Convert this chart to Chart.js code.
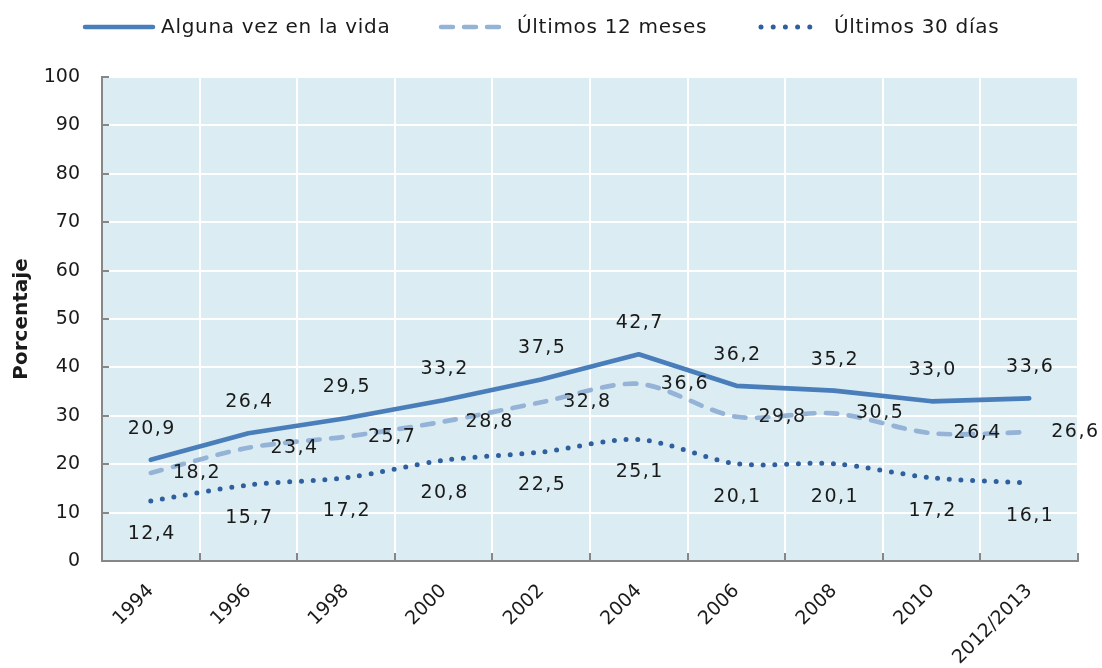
<!DOCTYPE html>
<html><head><meta charset="utf-8">
<script src="https://cdn.jsdelivr.net/npm/chart.js@4.4.0/dist/chart.umd.min.js"></script>
<style>html,body{margin:0;padding:0;background:#fff}#wrap{width:1102px;height:668px;position:relative}canvas{display:block}</style>
</head><body><div id="wrap"><canvas id="c" width="1102" height="668" style="width:1102px;height:668px"></canvas></div>
<script>
const categories = ['1994','1996','1998','2000','2002','2004','2006','2008','2010','2012/2013'];
const algunaVez = [20.9,26.4,29.5,33.2,37.5,42.7,36.2,35.2,33.0,33.6];
const ultimos12 = [18.2,23.4,25.7,28.8,32.8,36.6,29.8,30.5,26.4,26.6];
const ultimos30 = [12.4,15.7,17.2,20.8,22.5,25.1,20.1,20.1,17.2,16.1];
const seriesNames = ['Alguna vez en la vida','Últimos 12 meses','Últimos 30 días'];
const yMin = 0, yMax = 100, yStep = 10;
const yTitle = 'Porcentaje';

const FONT = '"DejaVu Sans", Verdana, sans-serif';
const TXT = '#1a1a1a';
const COLORS = ['#4a7ebb', '#95b3d7', '#2f5f9e'];

const fmt = v => v.toFixed(1).replace('.', ',');

const bgPlugin = {
  id: 'plotBg',
  beforeDraw(chart) {
    const {ctx, chartArea: a} = chart;
    ctx.save();
    ctx.fillStyle = '#dbedf3';
    ctx.fillRect(a.left, a.top, a.right - a.left, a.bottom - a.top);
    ctx.restore();
  }
};

const tickPlugin = {
  id: 'inTicks',
  afterDatasetsDraw(chart) {
    const {ctx, chartArea: a, scales: {x, y}} = chart;
    ctx.save();
    ctx.strokeStyle = '#878787';
    ctx.lineWidth = 2;
    ctx.beginPath();
    y.ticks.forEach(t => {
      const py = Math.round(y.getPixelForValue(t.value));
      ctx.moveTo(a.left, py); ctx.lineTo(a.left + 7, py);
    });
    for (let i = 1; i <= categories.length; i++) {
      const px = Math.round(x.getPixelForValue(i - 0.5));
      ctx.moveTo(px, a.bottom); ctx.lineTo(px, a.bottom - 8);
    }
    ctx.stroke();
    ctx.restore();
  }
};

const labelPlugin = {
  id: 'valLabels',
  afterDatasetsDraw(chart) {
    const {ctx} = chart;
    ctx.save();
    ctx.font = '19px ' + FONT;
    ctx.letterSpacing = '1.5px';
    ctx.fillStyle = TXT;
    ctx.textBaseline = 'middle';
    chart.data.datasets.forEach((ds, di) => {
      const meta = chart.getDatasetMeta(di);
      meta.data.forEach((pt, i) => {
        const s = fmt(ds.data[i]);
        if (di === 0) { ctx.textAlign = 'center'; ctx.fillText(s, pt.x + 1, pt.y - 31); }
        else if (di === 1) { ctx.textAlign = 'left'; ctx.fillText(s, pt.x + 22, pt.y); }
        else { ctx.textAlign = 'center'; ctx.fillText(s, pt.x + 1, pt.y + 33); }
      });
    });
    ctx.restore();
  }
};

const legendPlugin = {
  id: 'customLegend',
  afterDraw(chart) {
    const {ctx} = chart;
    const yy = 27;
    const items = [
      {x0: 83, x1: 155, tx: 161, dash: [], w: 4.5},
      {x0: 439, x1: 502, tx: 517, dash: [12, 11], w: 4.5},
      {x0: 759, x1: 821, tx: 834, dash: [0, 12.2], w: 5}
    ];
    ctx.save();
    items.forEach((it, i) => {
      ctx.beginPath();
      ctx.strokeStyle = COLORS[i];
      ctx.lineWidth = it.w;
      ctx.lineCap = 'round';
      ctx.setLineDash(it.dash);
      ctx.moveTo(it.x0 + 2, yy); ctx.lineTo(it.x1 - 2, yy);
      ctx.stroke();
      ctx.setLineDash([]);
      ctx.font = '20px ' + FONT;
      ctx.letterSpacing = '0.7px';
      ctx.fillStyle = TXT;
      ctx.textAlign = 'left';
      ctx.textBaseline = 'middle';
      ctx.fillText(seriesNames[i], it.tx, yy + 1);
    });
    ctx.restore();
  }
};

new Chart(document.getElementById('c'), {
  type: 'line',
  data: {
    labels: categories,
    datasets: [
      {label: seriesNames[0], data: algunaVez, borderColor: COLORS[0], borderWidth: 4.7, tension: 0, pointRadius: 0, borderCapStyle: 'round', borderJoinStyle: 'round'},
      {label: seriesNames[1], data: ultimos12, borderColor: COLORS[1], borderWidth: 4.7, tension: 0.3, pointRadius: 0, borderDash: [11.5, 11.5], borderCapStyle: 'round'},
      {label: seriesNames[2], data: ultimos30, borderColor: COLORS[2], borderWidth: 5, tension: 0.3, pointRadius: 0, borderDash: [0, 11.7], borderCapStyle: 'round'}
    ]
  },
  options: {
    responsive: false,
    animation: false,
    devicePixelRatio: 1,
    layout: {padding: {top: 77, right: 24, left: 0, bottom: 0}},
    plugins: {legend: {display: false}, tooltip: {enabled: false}},
    scales: {
      x: {
        offset: true,
        grid: {color: '#ffffff', lineWidth: 2, offset: true, drawTicks: false},
        border: {display: true, color: '#878787', width: 2},
        ticks: {font: {family: FONT, size: 19}, color: TXT, minRotation: 45, maxRotation: 45, autoSkip: false, padding: 19},
        afterFit(s) { s.height = 107; }
      },
      y: {
        min: yMin, max: yMax,
        grid: {color: '#ffffff', lineWidth: 2, drawTicks: false},
        border: {display: true, color: '#878787', width: 2},
        ticks: {stepSize: yStep, font: {family: FONT, size: 19}, color: TXT, padding: 22},
        title: {display: true, text: yTitle, font: {family: FONT, size: 20, weight: 'bold'}, color: TXT, padding: {top: 10, bottom: 0}},
        afterFit(s) { s.width = 102; }
      }
    }
  },
  plugins: [bgPlugin, tickPlugin, labelPlugin, legendPlugin]
});
</script>
</body></html>
